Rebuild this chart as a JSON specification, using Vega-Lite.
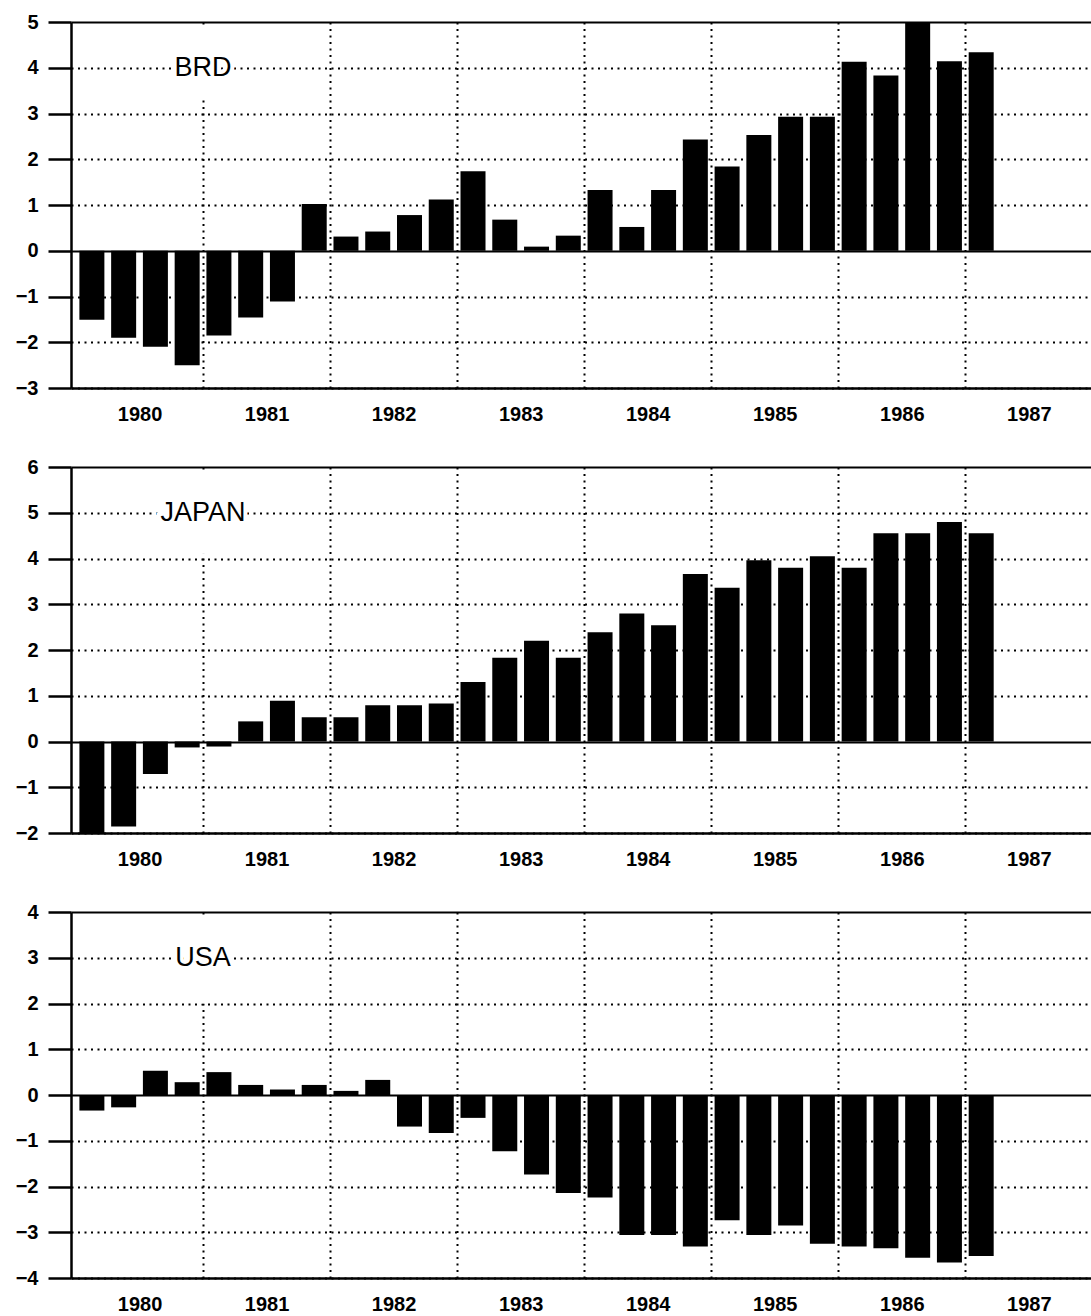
{
  "$schema": "https://vega.github.io/schema/vega-lite/v6.json",
  "background": "white",
  "padding": {"top": 12, "left": 15, "right": 0, "bottom": 0},
  "spacing": 33,
  "datasets": {
    "brd": [
      {"t": 1980.125, "v": -1.51}, {"t": 1980.375, "v": -1.90}, {"t": 1980.625, "v": -2.10}, {"t": 1980.875, "v": -2.50},
      {"t": 1981.125, "v": -1.85}, {"t": 1981.375, "v": -1.46}, {"t": 1981.625, "v": -1.11}, {"t": 1981.875, "v": 1.02},
      {"t": 1982.125, "v": 0.31}, {"t": 1982.375, "v": 0.42}, {"t": 1982.625, "v": 0.78}, {"t": 1982.875, "v": 1.12},
      {"t": 1983.125, "v": 1.74}, {"t": 1983.375, "v": 0.68}, {"t": 1983.625, "v": 0.09}, {"t": 1983.875, "v": 0.33},
      {"t": 1984.125, "v": 1.33}, {"t": 1984.375, "v": 0.52}, {"t": 1984.625, "v": 1.33}, {"t": 1984.875, "v": 2.43},
      {"t": 1985.125, "v": 1.84}, {"t": 1985.375, "v": 2.53}, {"t": 1985.625, "v": 2.93}, {"t": 1985.875, "v": 2.93},
      {"t": 1986.125, "v": 4.13}, {"t": 1986.375, "v": 3.83}, {"t": 1986.625, "v": 5.0}, {"t": 1986.875, "v": 4.14},
      {"t": 1987.125, "v": 4.34}
    ],
    "japan": [
      {"t": 1980.125, "v": -2.0}, {"t": 1980.375, "v": -1.86}, {"t": 1980.625, "v": -0.71}, {"t": 1980.875, "v": -0.13},
      {"t": 1981.125, "v": -0.11}, {"t": 1981.375, "v": 0.44}, {"t": 1981.625, "v": 0.89}, {"t": 1981.875, "v": 0.53},
      {"t": 1982.125, "v": 0.53}, {"t": 1982.375, "v": 0.79}, {"t": 1982.625, "v": 0.79}, {"t": 1982.875, "v": 0.83},
      {"t": 1983.125, "v": 1.30}, {"t": 1983.375, "v": 1.83}, {"t": 1983.625, "v": 2.20}, {"t": 1983.875, "v": 1.83},
      {"t": 1984.125, "v": 2.39}, {"t": 1984.375, "v": 2.80}, {"t": 1984.625, "v": 2.54}, {"t": 1984.875, "v": 3.66},
      {"t": 1985.125, "v": 3.36}, {"t": 1985.375, "v": 3.96}, {"t": 1985.625, "v": 3.80}, {"t": 1985.875, "v": 4.05},
      {"t": 1986.125, "v": 3.80}, {"t": 1986.375, "v": 4.55}, {"t": 1986.625, "v": 4.55}, {"t": 1986.875, "v": 4.80},
      {"t": 1987.125, "v": 4.55}
    ],
    "usa": [
      {"t": 1980.125, "v": -0.34}, {"t": 1980.375, "v": -0.27}, {"t": 1980.625, "v": 0.53}, {"t": 1980.875, "v": 0.28},
      {"t": 1981.125, "v": 0.50}, {"t": 1981.375, "v": 0.22}, {"t": 1981.625, "v": 0.12}, {"t": 1981.875, "v": 0.22},
      {"t": 1982.125, "v": 0.09}, {"t": 1982.375, "v": 0.33}, {"t": 1982.625, "v": -0.69}, {"t": 1982.875, "v": -0.83},
      {"t": 1983.125, "v": -0.50}, {"t": 1983.375, "v": -1.23}, {"t": 1983.625, "v": -1.74}, {"t": 1983.875, "v": -2.14},
      {"t": 1984.125, "v": -2.24}, {"t": 1984.375, "v": -3.06}, {"t": 1984.625, "v": -3.06}, {"t": 1984.875, "v": -3.31},
      {"t": 1985.125, "v": -2.74}, {"t": 1985.375, "v": -3.06}, {"t": 1985.625, "v": -2.85}, {"t": 1985.875, "v": -3.25},
      {"t": 1986.125, "v": -3.31}, {"t": 1986.375, "v": -3.35}, {"t": 1986.625, "v": -3.56}, {"t": 1986.875, "v": -3.66},
      {"t": 1987.125, "v": -3.52}
    ]
  },
  "vconcat": [
    {
      "width": 1020, "height": 366,
      "layer": [
        {
          "data": {"name": "brd"},
          "mark": {"type": "bar", "color": "black", "width": 25},
          "encoding": {
            "x": {"field": "t", "type": "quantitative", "scale": {"domain": [1980, 1987.95], "nice": false, "zero": false},
              "axis": {"values": [1980.5, 1981, 1981.5, 1982, 1982.5, 1983, 1983.5, 1984, 1984.5, 1985, 1985.5, 1986, 1986.5, 1987, 1987.5],
                "labelExpr": "datum.value % 1 == 0 ? '' : toString(floor(datum.value))",
                "gridOpacity": {"condition": {"test": "datum.value % 1 != 0", "value": 0}, "value": 1}}},
            "y": {"field": "v", "type": "quantitative", "scale": {"domain": [-3, 5], "nice": false},
              "axis": {"values": [-3, -2, -1, 0, 1, 2, 3, 4, 5],
                "gridDash": {"condition": {"test": "datum.value == 0 || datum.value == 5", "value": []}, "value": [2, 4.5]}}}
          }
        },
        {
          "data": {"values": [{}]},
          "mark": {"type": "rect", "color": "white"},
          "encoding": {"x": {"datum": 1980.98}, "x2": {"datum": 1981.02}, "y": {"datum": 3.3}, "y2": {"datum": 4.93}}
        },
        {
          "data": {"values": [{}]},
          "mark": {"type": "text", "text": "BRD", "fontSize": 27, "fill": "white", "stroke": "white", "strokeWidth": 8, "align": "center", "baseline": "middle"},
          "encoding": {"x": {"datum": 1981}, "y": {"datum": 4}}
        },
        {
          "data": {"values": [{}]},
          "mark": {"type": "text", "text": "BRD", "fontSize": 27, "color": "black", "align": "center", "baseline": "middle"},
          "encoding": {"x": {"datum": 1981}, "y": {"datum": 4}}
        }
      ]
    },
    {
      "width": 1020, "height": 366,
      "layer": [
        {
          "data": {"name": "japan"},
          "mark": {"type": "bar", "color": "black", "width": 25},
          "encoding": {
            "x": {"field": "t", "type": "quantitative", "scale": {"domain": [1980, 1987.95], "nice": false, "zero": false},
              "axis": {"values": [1980.5, 1981, 1981.5, 1982, 1982.5, 1983, 1983.5, 1984, 1984.5, 1985, 1985.5, 1986, 1986.5, 1987, 1987.5],
                "labelExpr": "datum.value % 1 == 0 ? '' : toString(floor(datum.value))",
                "gridOpacity": {"condition": {"test": "datum.value % 1 != 0", "value": 0}, "value": 1}}},
            "y": {"field": "v", "type": "quantitative", "scale": {"domain": [-2, 6], "nice": false},
              "axis": {"values": [-2, -1, 0, 1, 2, 3, 4, 5, 6],
                "gridDash": {"condition": {"test": "datum.value == 0 || datum.value == 6", "value": []}, "value": [2, 4.5]}}}
          }
        },
        {
          "data": {"values": [{}]},
          "mark": {"type": "rect", "color": "white"},
          "encoding": {"x": {"datum": 1980.98}, "x2": {"datum": 1981.02}, "y": {"datum": 4.1}, "y2": {"datum": 5.93}}
        },
        {
          "data": {"values": [{}]},
          "mark": {"type": "text", "text": "JAPAN", "fontSize": 27, "fill": "white", "stroke": "white", "strokeWidth": 8, "align": "center", "baseline": "middle"},
          "encoding": {"x": {"datum": 1981}, "y": {"datum": 5}}
        },
        {
          "data": {"values": [{}]},
          "mark": {"type": "text", "text": "JAPAN", "fontSize": 27, "color": "black", "align": "center", "baseline": "middle"},
          "encoding": {"x": {"datum": 1981}, "y": {"datum": 5}}
        }
      ]
    },
    {
      "width": 1020, "height": 366,
      "layer": [
        {
          "data": {"name": "usa"},
          "mark": {"type": "bar", "color": "black", "width": 25},
          "encoding": {
            "x": {"field": "t", "type": "quantitative", "scale": {"domain": [1980, 1987.95], "nice": false, "zero": false},
              "axis": {"values": [1980.5, 1981, 1981.5, 1982, 1982.5, 1983, 1983.5, 1984, 1984.5, 1985, 1985.5, 1986, 1986.5, 1987, 1987.5],
                "labelExpr": "datum.value % 1 == 0 ? '' : toString(floor(datum.value))",
                "gridOpacity": {"condition": {"test": "datum.value % 1 != 0", "value": 0}, "value": 1}}},
            "y": {"field": "v", "type": "quantitative", "scale": {"domain": [-4, 4], "nice": false},
              "axis": {"values": [-4, -3, -2, -1, 0, 1, 2, 3, 4],
                "gridDash": {"condition": {"test": "datum.value == 0 || datum.value == 4", "value": []}, "value": [2, 4.5]}}}
          }
        },
        {
          "data": {"values": [{}]},
          "mark": {"type": "rect", "color": "white"},
          "encoding": {"x": {"datum": 1980.98}, "x2": {"datum": 1981.02}, "y": {"datum": 2.0}, "y2": {"datum": 3.93}}
        },
        {
          "data": {"values": [{}]},
          "mark": {"type": "text", "text": "USA", "fontSize": 27, "fill": "white", "stroke": "white", "strokeWidth": 8, "align": "center", "baseline": "middle"},
          "encoding": {"x": {"datum": 1981}, "y": {"datum": 3}}
        },
        {
          "data": {"values": [{}]},
          "mark": {"type": "text", "text": "USA", "fontSize": 27, "color": "black", "align": "center", "baseline": "middle"},
          "encoding": {"x": {"datum": 1981}, "y": {"datum": 3}}
        }
      ]
    }
  ],
  "config": {
    "view": {"stroke": null},
    "text": {"font": "Liberation Sans"},
    "axis": {
      "title": null,
      "domainColor": "black", "domainWidth": 2.5,
      "tickColor": "black", "tickWidth": 2.5,
      "labelColor": "black", "labelFont": "Liberation Sans", "labelFontSize": 20, "labelFontWeight": "bold",
      "gridColor": "black", "gridWidth": 2,
      "labelOverlap": false, "labelFlush": false
    },
    "axisX": {"ticks": false, "labelPadding": 16, "grid": true, "gridDash": [2, 4.5]},
    "axisY": {"tickSize": 23, "labelPadding": 10, "grid": true}
  }
}
